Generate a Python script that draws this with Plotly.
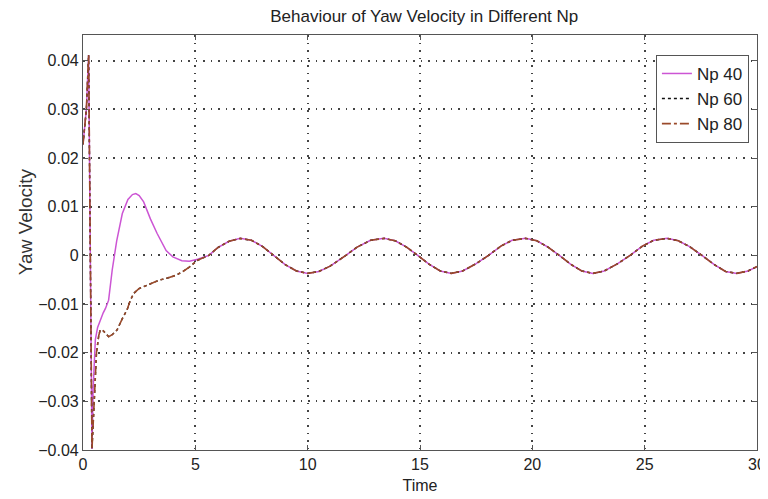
import plotly.graph_objects as go

# ---- data ----
t_early_40 = [0, 0.15, 0.25, 0.33, 0.4, 0.45, 0.55, 0.65, 0.77, 0.9, 1.0, 1.14, 1.3, 1.5,
              1.75, 2.0, 2.2, 2.35, 2.5, 2.7, 3.0, 3.3, 3.7, 4.0, 4.4, 4.73, 5.1]
v_early_40 = [0.0228, 0.030, 0.0412, 0.0, -0.0398, -0.0276, -0.0173, -0.0148, -0.0133, -0.0118,
              -0.0109, -0.0092, -0.003, 0.003, 0.0086, 0.0115, 0.0125, 0.0127, 0.0123, 0.011,
              0.0075, 0.0045, 0.001, -0.0003, -0.0011, -0.0012, -0.0008]

t_early_80 = [0, 0.15, 0.25, 0.33, 0.4, 0.5, 0.6, 0.7, 0.77, 0.9, 1.14, 1.3, 1.52, 1.75,
              1.96, 2.1, 2.26, 2.5, 3.0, 3.39, 3.8, 4.13, 4.45, 4.73, 5.1]
v_early_80 = [0.0228, 0.030, 0.0412, 0.0, -0.0398, -0.030, -0.020, -0.0165, -0.0153, -0.0155,
              -0.0167, -0.0163, -0.0153, -0.013, -0.0112, -0.0093, -0.0078, -0.0068, -0.0058,
              -0.0051, -0.0046, -0.0041, -0.0033, -0.0024, -0.001]

t_osc = [5.6, 6.0, 6.5, 7.0, 7.5, 8.0, 8.5, 9.0, 9.5, 10.0, 10.5, 11.0, 11.7, 12.2, 12.8,
         13.4, 13.9, 14.4, 14.9, 15.4, 15.9, 16.4, 16.9, 17.5, 18.05, 18.6, 19.1, 19.7,
         20.2, 20.7, 21.2, 21.7, 22.2, 22.7, 23.2, 23.8, 24.35, 24.9, 25.4, 26.0, 26.5,
         27.0, 27.55, 28.1, 28.6, 29.1, 29.6, 30.0]
v_osc = [0.0, 0.0016, 0.0029, 0.0035, 0.0031, 0.0018, 0.0, -0.0019, -0.0032, -0.0037,
         -0.0033, -0.0022, 0.0, 0.0017, 0.0031, 0.0035, 0.003, 0.0017, 0.0, -0.0018, -0.0032,
         -0.0037, -0.0032, -0.0017, 0.0, 0.0019, 0.0031, 0.0035, 0.003, 0.0017, 0.0, -0.0018,
         -0.0032, -0.0037, -0.0032, -0.0017, 0.0, 0.0019, 0.0031, 0.0035, 0.003, 0.0018, 0.0,
         -0.0019, -0.0033, -0.0037, -0.0032, -0.0023]

series_names = ["Np 40", "Np 60", "Np 80"]
x_ticks = [0, 5, 10, 15, 20, 25, 30]
y_ticks = [-0.04, -0.03, -0.02, -0.01, 0, 0.01, 0.02, 0.03, 0.04]
y_tick_labels = ["\u22120.04", "\u22120.03", "\u22120.02", "\u22120.01", "0",
                 "0.01", "0.02", "0.03", "0.04"]

t40 = t_early_40 + t_osc
v40 = v_early_40 + v_osc
t80 = t_early_80 + t_osc
v80 = v_early_80 + v_osc

FONT = "Liberation Sans, Arial, sans-serif"
TXT = "#222222"

fig = go.Figure()
fig.add_trace(go.Scatter(x=t40, y=v40, mode="lines", name=series_names[0], legendgroup="a",
                         line=dict(color="#cc55d4", width=1.5)))
fig.add_trace(go.Scatter(x=t80, y=v80, mode="lines", name=series_names[1], legendgroup="b",
                         line=dict(color="#111111", width=1.4, dash="dot")))
fig.add_trace(go.Scatter(x=t80, y=v80, mode="lines", name=series_names[2], legendgroup="c",
                         line=dict(color="#9a4a2a", width=1.6, dash="dashdot")))

axis_common = dict(
    showgrid=True, gridcolor="#444444", gridwidth=1.5, griddash="1.5px,6px",
    showline=True, linecolor="#555555", linewidth=1.2, mirror="ticks",
    ticks="inside", ticklen=5, tickcolor="#555555",
    zeroline=False, automargin=False,
    tickfont=dict(family=FONT, size=16, color=TXT),
)

# note: the page body adds an 8px offset, margins below compensate for it
fig.update_layout(
    width=768, height=499,
    margin=dict(l=75, r=19, t=27, b=57),
    paper_bgcolor="white", plot_bgcolor="white",
    title=dict(text="Behaviour of Yaw Velocity in Different Np", x=0.542, xanchor="center",
               y=0.983, yanchor="middle",
               font=dict(family=FONT, size=17, color=TXT)),
    font=dict(family=FONT, size=16, color=TXT),
    showlegend=True,
    legend=dict(x=0.988, xanchor="right", y=0.952, yanchor="top",
                bgcolor="white", bordercolor="#555555", borderwidth=1,
                font=dict(family=FONT, size=17, color=TXT),
                tracegroupgap=0, entrywidth=80),
    annotations=[dict(text="Yaw Velocity", textangle=-90, xref="paper", yref="paper",
                      x=-0.086, y=0.549, xanchor="center", yanchor="middle",
                      showarrow=False, font=dict(family=FONT, size=19, color="#333333"))],
)
fig.update_xaxes(range=[0, 30], tickvals=x_ticks,
                 title=dict(text="Time", standoff=7, font=dict(family=FONT, size=16, color=TXT)),
                 **axis_common)
fig.update_yaxes(range=[-0.04, 0.0453], tickvals=y_ticks, ticktext=y_tick_labels,
                 **axis_common)

fig.write_html("out.html")
